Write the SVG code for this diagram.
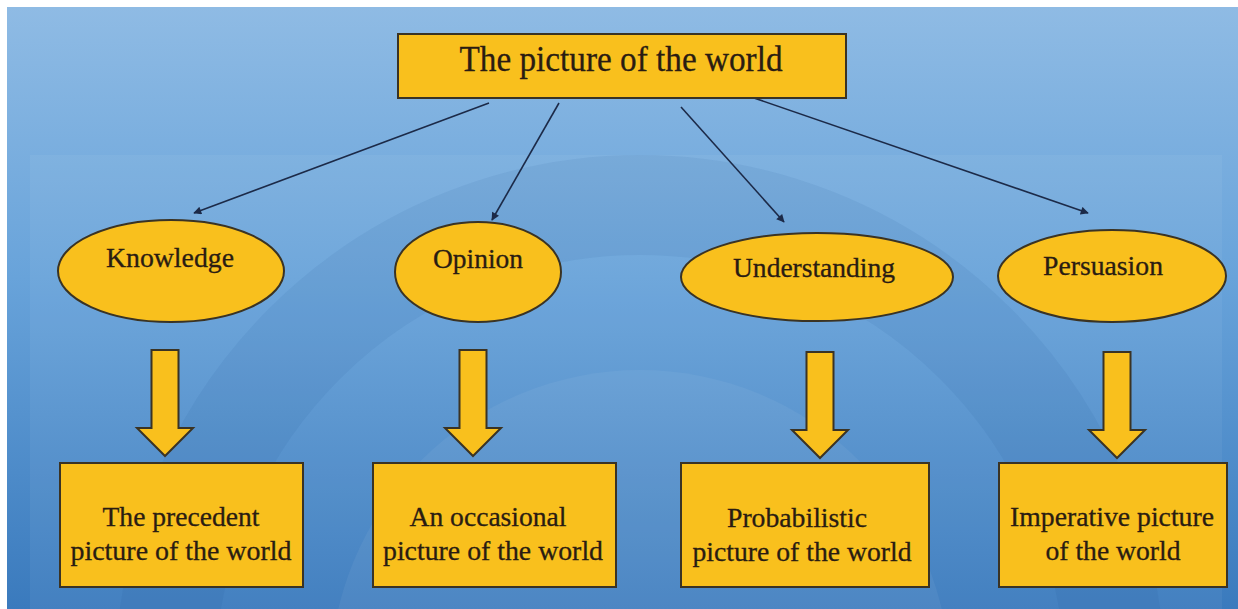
<svg xmlns="http://www.w3.org/2000/svg" width="1238" height="609" viewBox="0 0 1238 609">
<defs>
<linearGradient id="bg" x1="0" y1="0" x2="0" y2="1">
<stop offset="0" stop-color="#8fbbe4"/>
<stop offset="0.45" stop-color="#68a3da"/>
<stop offset="1" stop-color="#3a7abd"/>
</linearGradient>
<marker id="ah" viewBox="0 0 10 10" refX="9" refY="5" markerWidth="9" markerHeight="8" markerUnits="userSpaceOnUse" orient="auto">
<path d="M0,0 L10,5 L0,10 z" fill="#1c2a48"/>
</marker>
<path id="blk" d="M-13.5,0 H13.5 V78 H28 L0,106 L-28,78 H-13.5 Z"/>
<style>
.lbl{font-family:"Liberation Serif","Times New Roman",serif;fill:#2a1c12;stroke:#2a1c12;stroke-width:0.3;text-anchor:middle}
.node{fill:#f9c01d;stroke:#3a3324;stroke-width:2}
.conn{stroke:#1c2a48;stroke-width:1.6;fill:none;marker-end:url(#ah)}
.barrow{fill:#f9c01d;stroke:#3a3324;stroke-width:2;stroke-linejoin:miter}
</style>
</defs>
<rect x="0" y="0" width="1238" height="609" fill="#ffffff"/>
<rect x="7" y="7" width="1231" height="602" fill="url(#bg)"/>
<g id="watermark">
<rect x="30" y="155" width="1192" height="454" fill="#ffffff" opacity="0.05"/>
<circle cx="640" cy="680" r="475" fill="none" stroke="#1d4f8f" stroke-width="100" opacity="0.08"/>
<circle cx="640" cy="680" r="310" fill="#ffffff" opacity="0.05"/>
</g>
<g id="connectors">
<line class="conn" x1="489" y1="103" x2="194" y2="213"/>
<line class="conn" x1="559" y1="103" x2="492" y2="220"/>
<line class="conn" x1="681" y1="107" x2="784" y2="222"/>
<line class="conn" x1="754" y1="98" x2="1088" y2="213"/>
<use href="#blk" class="barrow" x="165" y="350"/>
<use href="#blk" class="barrow" x="473" y="350"/>
<use href="#blk" class="barrow" x="820" y="352"/>
<use href="#blk" class="barrow" x="1117" y="352"/>
</g>
<g id="root">
<rect class="node" x="398" y="34" width="448" height="64"/>
<text class="lbl" x="621" y="71" font-size="36" textLength="323" lengthAdjust="spacingAndGlyphs">The picture of the world</text>
</g>
<g id="knowledge">
<ellipse class="node" cx="171" cy="271" rx="113" ry="51"/>
<text class="lbl" x="170" y="267" font-size="27" textLength="128" lengthAdjust="spacingAndGlyphs">Knowledge</text>
</g>
<g id="opinion">
<ellipse class="node" cx="478" cy="272" rx="83" ry="50"/>
<text class="lbl" x="478" y="268" font-size="27" textLength="90" lengthAdjust="spacingAndGlyphs">Opinion</text>
</g>
<g id="understanding">
<ellipse class="node" cx="817" cy="277" rx="136" ry="44"/>
<text class="lbl" x="814" y="277" font-size="27" textLength="162" lengthAdjust="spacingAndGlyphs">Understanding</text>
</g>
<g id="persuasion">
<ellipse class="node" cx="1112" cy="276" rx="114" ry="46"/>
<text class="lbl" x="1103" y="275" font-size="27" textLength="120" lengthAdjust="spacingAndGlyphs">Persuasion</text>
</g>
<g id="precedent">
<rect class="node" x="60" y="463" width="243" height="124"/>
<text class="lbl" x="181" y="526" font-size="28" textLength="157" lengthAdjust="spacingAndGlyphs">The precedent</text>
<text class="lbl" x="181" y="560" font-size="28" textLength="221" lengthAdjust="spacingAndGlyphs">picture of the world</text>
</g>
<g id="occasional">
<rect class="node" x="373" y="463" width="243" height="124"/>
<text class="lbl" x="488" y="526" font-size="28" textLength="157" lengthAdjust="spacingAndGlyphs">An occasional</text>
<text class="lbl" x="493" y="560" font-size="28" textLength="220" lengthAdjust="spacingAndGlyphs">picture of the world</text>
</g>
<g id="probabilistic">
<rect class="node" x="681" y="463" width="248" height="124"/>
<text class="lbl" x="797" y="527" font-size="28" textLength="140" lengthAdjust="spacingAndGlyphs">Probabilistic</text>
<text class="lbl" x="802" y="561" font-size="28" textLength="219" lengthAdjust="spacingAndGlyphs">picture of the world</text>
</g>
<g id="imperative">
<rect class="node" x="999" y="463" width="228" height="124"/>
<text class="lbl" x="1112" y="526" font-size="28" textLength="204" lengthAdjust="spacingAndGlyphs">Imperative picture</text>
<text class="lbl" x="1113" y="560" font-size="28" textLength="135" lengthAdjust="spacingAndGlyphs">of the world</text>
</g>
</svg>
